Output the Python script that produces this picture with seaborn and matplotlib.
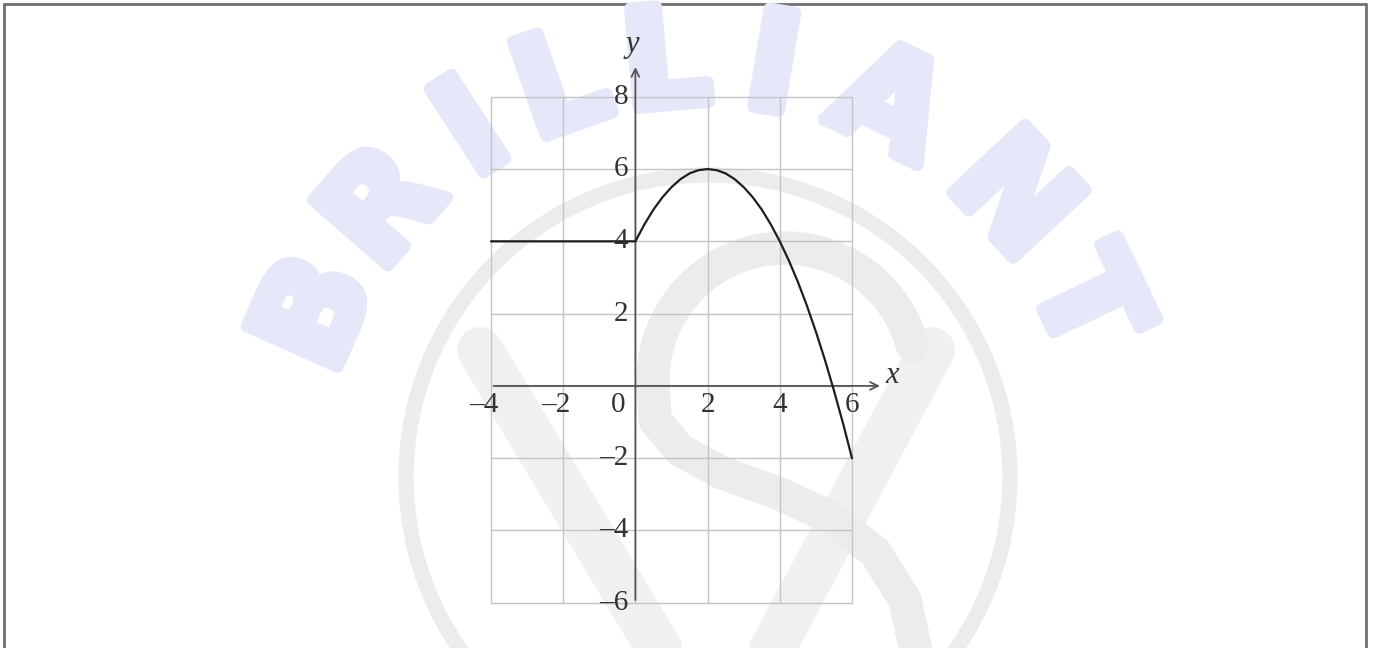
import numpy as np
import matplotlib
matplotlib.use("Agg")
import matplotlib.pyplot as plt
import matplotlib.patheffects as pe
from matplotlib.patches import Circle
import seaborn as sns
import pandas as pd

# curve values: flat piece then the hump
x_vals = [-4, 0, 0.25, 0.5, 0.75, 1, 1.25, 1.5, 1.75, 2, 2.25, 2.5, 2.75, 3,
          3.25, 3.5, 3.75, 4, 4.25, 4.5, 4.75, 5, 5.25, 5.5, 5.75, 6]
y_vals = [4, 4, 4.47, 4.88, 5.22, 5.5, 5.72, 5.88, 5.97, 6, 5.97, 5.88, 5.72, 5.5,
          5.22, 4.88, 4.47, 4, 3.47, 2.88, 2.22, 1.5, 0.72, -0.13, -1.03, -2]

xtick_vals = [-4, -2, 2, 4, 6]
ytick_vals = [8, 6, 4, 2, -2, -4, -6]
grid_x = [-4, -2, 0, 2, 4, 6]
grid_y = [-6, -4, -2, 0, 2, 4, 6, 8]
watermark = "BRILLIANT"

sns.set_theme(style="white")
plt.rcParams['font.family'] = ['Liberation Serif', 'DejaVu Serif']

W, H = 1373, 648
fig = plt.figure(figsize=(W / 100, H / 100), dpi=100)

# background layer in pixel coordinates (watermark + frame)
bg = fig.add_axes([0, 0, 1, 1], zorder=0)
bg.set_xlim(0, W)
bg.set_ylim(H, 0)
bg.axis("off")

bg.add_patch(Circle((708, 477), 302, fill=False, lw=11, ec="#ececec"))
t = np.linspace(np.radians(15), np.pi, 60)
sx = list(785 + 132 * np.cos(t)) + [655, 680, 720, 780, 830, 875, 905, 918]
sy = list(380 - 132 * np.sin(t)) + [420, 450, 472, 494, 517, 552, 600, 660]
bg.plot([480, 690], [350, 700], color="#f0f0f0", lw=33, solid_capstyle="round")
bg.plot([932, 745], [350, 700], color="#f0f0f0", lw=33, solid_capstyle="round")
bg.plot(sx, sy, color="#ececec", lw=24, solid_capstyle="round")

angles = [156, 139, 123, 109.5, 95, 80.5, 64, 43, 25.6]
for ch, a in zip(watermark, angles):
    r = np.radians(a)
    bg.text(703 + 420 * np.cos(r), 486 - 420 * np.sin(r), ch, rotation=a - 90,
            rotation_mode="anchor", ha="center", va="center", fontsize=98,
            fontweight="bold", family="DejaVu Sans", color="#e5e8f9",
            path_effects=[pe.withStroke(linewidth=9, foreground="#e5e8f9",
                                        capstyle="round", joinstyle="round")])

bg.plot([4, W - 7], [4, 4], color="#707070", lw=2)
bg.plot([4, 4], [4, H], color="#707070", lw=2)
bg.plot([W - 7, W - 7], [4, H], color="#707070", lw=2)

# main graph, 36.1 px per unit, origin at (635.4, 385.9)
ax = fig.add_axes([0, 0, 1, 1], zorder=1)
ax.patch.set_alpha(0)
ax.set_xlim(-635.4 / 36.1, (W - 635.4) / 36.1)
ax.set_ylim((385.9 - H) / 36.14, 385.9 / 36.14)
ax.axis("off")

for gx in grid_x:
    ax.plot([gx, gx], [-6, 8], color="#c4c4c8", lw=1, zorder=1)
for gy in grid_y:
    ax.plot([-4, 6], [gy, gy], color="#c4c4c8", lw=1, zorder=1)

ax.annotate("", xy=(6.85, 0), xytext=(-4, 0),
            arrowprops=dict(arrowstyle="->", color="#555555", lw=1.3, mutation_scale=14))
ax.annotate("", xy=(0, 8.9), xytext=(0, -6),
            arrowprops=dict(arrowstyle="->", color="#555555", lw=1.3, mutation_scale=14))

df = pd.DataFrame({"x": x_vals, "y": y_vals})
sns.lineplot(data=df, x="x", y="y", sort=False, estimator=None, color="#1e1e1e",
             lw=1.6, ax=ax, zorder=3)
ax.axis("off")

fs = 21
for v in xtick_vals:
    lab = str(v).replace("-", "\u2013")
    ax.text(v + 0.21, -0.53, lab, ha="right", va="center", fontsize=fs, color="#333333")
ax.text(-0.48, -0.53, "0", ha="center", va="center", fontsize=fs, color="#333333")
for v in ytick_vals:
    lab = str(v).replace("-", "\u2013")
    ax.text(-0.2, v, lab, ha="right", va="center", fontsize=fs, color="#333333")

ax.text(7.1, 0.3, "x", style="italic", ha="center", va="center", fontsize=22, color="#333333")
ax.text(-0.08, 9.45, "y", style="italic", ha="center", va="center", fontsize=22, color="#333333")

fig.savefig("out.png", dpi=100)
